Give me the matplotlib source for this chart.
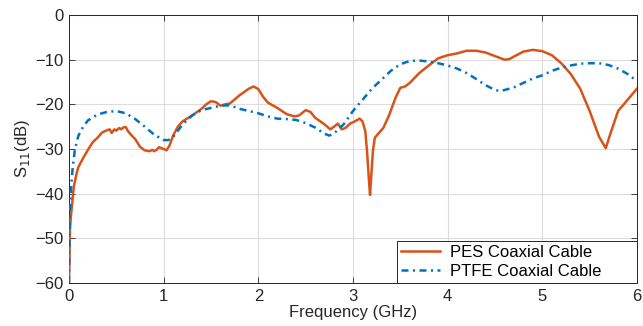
import matplotlib
matplotlib.use("Agg")
import matplotlib.pyplot as plt

plt.rcParams['font.family'] = ['Liberation Sans', 'DejaVu Sans']

pes_f = [0, 0.005, 0.01, 0.02, 0.03, 0.05, 0.08, 0.1, 0.15, 0.2, 0.25, 0.3, 0.35, 0.4, 0.43, 0.45,
         0.48, 0.5, 0.53, 0.55, 0.58, 0.6, 0.62, 0.65, 0.7, 0.75, 0.8, 0.85, 0.88, 0.9, 0.93, 0.95,
         1.0, 1.03, 1.06, 1.1, 1.15, 1.2, 1.3, 1.4, 1.45, 1.5, 1.55, 1.6, 1.65, 1.7, 1.8, 1.9, 1.95,
         2.0, 2.05, 2.1, 2.2, 2.3, 2.38, 2.43, 2.5, 2.55, 2.6, 2.7, 2.76, 2.8, 2.84, 2.88, 2.92, 2.97,
         3.02, 3.07, 3.1, 3.13, 3.15, 3.17, 3.18, 3.19, 3.21, 3.23, 3.27, 3.32, 3.38, 3.45, 3.5, 3.55,
         3.6, 3.7, 3.8, 3.9, 4.0, 4.1, 4.2, 4.3, 4.4, 4.5, 4.6, 4.65, 4.7, 4.8, 4.9, 5.0, 5.1, 5.2,
         5.3, 5.4, 5.5, 5.6, 5.67, 5.72, 5.8, 5.9, 6.0]
pes_s11 = [-60, -55, -48, -45, -43, -38.5, -35.5, -34, -32, -30.2, -28.5, -27.5, -26.3, -25.8, -25.6, -26.4,
           -25.6, -25.9, -25.3, -25.6, -25.1, -25.1, -25.9, -26.7, -27.8, -29.5, -30.3, -30.5, -30.2, -30.5, -30.1, -29.6,
           -30.0, -30.3, -29.3, -27.0, -25.0, -23.8, -22.5, -21.0, -20, -19.3, -19.5, -20.3, -20.0, -19.8, -18, -16.5, -16,
           -16.6, -18.3, -19.6, -20.8, -22.2, -22.7, -22.5, -21.3, -21.7, -23, -24.5, -25.6, -25.0, -24.3, -25.6, -25.3, -24.3,
           -23.8, -23.2, -23.8, -26, -31, -37.5, -40.3, -37, -30.5, -27.5, -26.5, -25.3, -22.5, -18.5, -16.3, -16.0,
           -15.2, -13.0, -11.3, -9.7, -9.0, -8.6, -8.0, -8.0, -8.4, -9.2, -10.0, -9.9, -9.3, -8.2, -7.8, -8.1, -9.0, -10.8,
           -13.2, -16.5, -21.5, -27.3, -29.8, -26.5, -21.5, -19.0, -16.5]

ptfe_f = [0, 0.005, 0.01, 0.02, 0.04, 0.06, 0.08, 0.1, 0.15, 0.2, 0.3, 0.4, 0.5, 0.6, 0.7, 0.8, 0.9,
          1.0, 1.05, 1.1, 1.2, 1.3, 1.4, 1.5, 1.6, 1.7, 1.8, 1.9, 2.0, 2.1, 2.2, 2.3, 2.4, 2.5, 2.6,
          2.7, 2.75, 2.8, 2.9, 3.0, 3.1, 3.2, 3.3, 3.4, 3.5, 3.6, 3.7, 3.8, 3.9, 4.0, 4.1, 4.2, 4.3,
          4.4, 4.5, 4.55, 4.6, 4.7, 4.8, 4.9, 5.0, 5.1, 5.2, 5.3, 5.4, 5.5, 5.6, 5.7, 5.8, 5.9, 6.0]
ptfe_s11 = [-60, -50, -44, -39, -34, -30.5, -28.5, -27, -25, -23.6, -22.3, -21.7, -21.5, -22, -23.3, -25, -26.8,
            -28, -28, -27.3, -24.5, -22.5, -21.3, -20.8, -20.3, -20.2, -21, -21.5, -22, -22.7, -23.2, -23.3, -23.5, -24.2, -25.2,
            -26.6, -27, -26.5, -24.5, -21.5, -19, -16.5, -14.5, -12.5, -11, -10.3, -10.2, -10.4, -10.8, -11.3, -12, -13, -14.3,
            -15.7, -16.8, -17, -16.8, -16.2, -15.2, -14.2, -13.5, -12.5, -11.8, -11.3, -10.9, -10.8, -10.8, -11.2, -12, -13.2, -14.8]

x_ticks = [0, 1, 2, 3, 4, 5, 6]
y_ticks = [-60, -50, -40, -30, -20, -10, 0]
series_labels = ['PES Coaxial Cable', 'PTFE Coaxial Cable']

W, H = 643, 326
fig = plt.figure(figsize=(W / 100, H / 100), dpi=100)
ax = fig.add_axes([69 / W, 1 - 283 / H, (637 - 69) / W, (283 - 15) / H])

ax.plot(pes_f, pes_s11, color='#D95319', lw=1.8, label=series_labels[0], zorder=3)
ax.plot(ptfe_f, ptfe_s11, color='#0072BD', lw=1.8, dashes=(2.8, 1.8, 0.8, 1.8),
        label=series_labels[1], zorder=3)

ax.set_xlim(0, 6)
ax.set_ylim(-60, 0)
ax.set_xticks(x_ticks)
ax.set_yticks(y_ticks)
ax.grid(True, color='#DCDCDC', lw=0.8)
ax.set_axisbelow(True)
ax.tick_params(direction='in', length=4, width=0.6, colors='#262626', labelsize=12,
               top=True, right=True, pad=4)
for sp in ax.spines.values():
    sp.set_color('#262626')
    sp.set_linewidth(0.7)

ax.set_xlabel('Frequency (GHz)', fontsize=12, color='#262626', labelpad=1)
ax.set_ylabel('S$_{11}$(dB)', fontsize=12, color='#262626', labelpad=2)

x0 = (397 - 69) / (637 - 69)
leg = ax.legend(loc='lower left', bbox_to_anchor=(x0, 0, 1 - x0, 0.17), mode='expand',
                fontsize=12, fancybox=False, framealpha=1,
                edgecolor='#262626', borderaxespad=0, handlelength=2.3,
                borderpad=0.25, labelspacing=0.25, handletextpad=0.6)
leg.get_frame().set_linewidth(0.7)

fig.savefig('out.png', dpi=100)
